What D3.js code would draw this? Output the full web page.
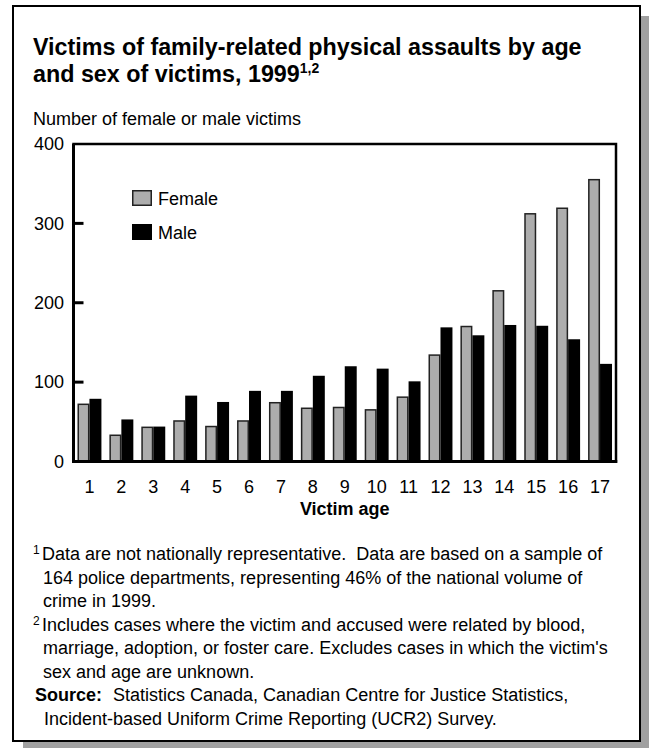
<!DOCTYPE html>
<html>
<head>
<meta charset="utf-8">
<script src="https://cdn.jsdelivr.net/npm/d3@7/dist/d3.min.js"></script>
<style>
  html, body { margin: 0; padding: 0; background: #ffffff; }
  svg { display: block; font-family: "Liberation Sans", Arial, sans-serif; }
  text { white-space: pre; }
</style>
</head>
<body>
<script>
// ---- data ----
const ages = ["1","2","3","4","5","6","7","8","9","10","11","12","13","14","15","16","17"];
const female = [73, 34, 44, 52, 45, 52, 75, 68, 69, 66, 82, 135, 171, 216, 313, 320, 356];
const male   = [79, 53, 44, 83, 75, 89, 89, 108, 120, 117, 101, 169, 159, 172, 171, 154, 123];
const seriesNames = ["Female", "Male"];
const yTicks = [0, 100, 200, 300, 400];
const titleLines = ["Victims of family-related physical assaults by age", "and sex of victims, 1999"];
const titleSup = "1,2";
const yAxisTitle = "Number of female or male victims";
const xAxisTitle = "Victim age";
const notes = [
  {sup: "1", lines: ["Data are not nationally representative.  Data are based on a sample of", "164 police departments, representing 46% of the national volume of", "crime in 1999."]},
  {sup: "2", lines: ["Includes cases where the victim and accused were related by blood,", "marriage, adoption, or foster care. Excludes cases in which the victim's", "sex and age are unknown."]}
];
const sourceLabel = "Source:";
const sourceLines = ["Statistics Canada, Canadian Centre for Justice Statistics,", "Incident-based Uniform Crime Reporting (UCR2) Survey."];

const W = 649, H = 748;
const FONT = "Liberation Sans, Arial, sans-serif";
const svg = d3.select("body").append("svg").attr("width", W).attr("height", H);

// frame + shadow
svg.append("rect").attr("x", 23).attr("y", 16).attr("width", 626).attr("height", 732).attr("fill", "#a0a0a0");
svg.append("rect").attr("x", 13).attr("y", 6).attr("width", 627).attr("height", 735)
  .attr("fill", "#fff").attr("stroke", "#000").attr("stroke-width", 2);

// title
const title = svg.append("g").attr("font-weight", "bold").attr("font-size", 23.3).attr("fill", "#000");
title.append("text").attr("x", 33).attr("y", 55).text(titleLines[0]);
const t2 = title.append("text").attr("x", 33).attr("y", 82);
t2.append("tspan").text(titleLines[1]);
t2.append("tspan").attr("font-size", 14).attr("dy", -9).text(titleSup);

svg.append("text").attr("x", 33).attr("y", 124.5).attr("font-size", 18).text(yAxisTitle);

// plot
const L = 73.5, R = 616, T = 144, B = 461.5;
const x0 = d3.scaleBand().domain(ages).range([L, R]).paddingInner(0.25).paddingOuter(0.125);
const x1 = d3.scaleBand().domain(seriesNames).range([0, x0.bandwidth()]);
const y = d3.scaleLinear().domain([0, 400]).range([B, T]);

const rows = ages.map((a, i) => ({age: a, vals: [female[i], male[i]]}));
const colors = {Female: "#adadad", Male: "#000"};

const groups = svg.append("g").selectAll("g").data(rows).join("g")
  .attr("transform", d => `translate(${x0(d.age)},0)`);
groups.selectAll("rect").data(d => d.vals.map((v, k) => ({name: seriesNames[k], v})))
  .join("rect")
  .attr("x", d => x1(d.name) + (d.name === "Female" ? 0.75 : 0))
  .attr("y", d => y(d.v) + (d.name === "Female" ? 0.75 : 0))
  .attr("width", d => x1.bandwidth() - (d.name === "Female" ? 1.5 : 0))
  .attr("height", d => B - y(d.v) - (d.name === "Female" ? 0.75 : 0))
  .attr("fill", d => colors[d.name])
  .attr("stroke", d => d.name === "Female" ? "#222" : "none")
  .attr("stroke-width", 1.5);

// y axis (inner ticks)
const yAxis = d3.axisLeft(y).tickValues(yTicks).tickSize(0).tickPadding(9.5);
const yg = svg.append("g").attr("transform", `translate(${L},0)`).call(yAxis);
yg.select(".domain").remove();
yg.selectAll("text").attr("font-size", 18).attr("font-family", FONT).attr("fill", "#000");
svg.append("g").selectAll("line").data(yTicks.slice(1, -1)).join("line")
  .attr("x1", L).attr("x2", L + 10).attr("y1", d => y(d)).attr("y2", d => y(d))
  .attr("stroke", "#000").attr("stroke-width", 3);

// x axis
const xAxis = d3.axisBottom(x0).tickSize(0).tickPadding(19);
const xg = svg.append("g").attr("transform", `translate(0,${B})`).call(xAxis);
xg.select(".domain").remove();
xg.selectAll("text").attr("font-size", 18).attr("font-family", FONT).attr("fill", "#000");

// plot frame
svg.append("rect").attr("x", L).attr("y", T).attr("width", R - L).attr("height", B - T)
  .attr("fill", "none").attr("stroke", "#000").attr("stroke-width", 2.5);
svg.append("line").attr("x1", L).attr("x2", L).attr("y1", T).attr("y2", B + 1.5).attr("stroke", "#000").attr("stroke-width", 3);
svg.append("line").attr("x1", L - 1.5).attr("x2", R + 1.25).attr("y1", B).attr("y2", B).attr("stroke", "#000").attr("stroke-width", 3);

svg.append("text").attr("x", (L + R) / 2).attr("y", 515).attr("text-anchor", "middle")
  .attr("font-size", 18).attr("font-weight", "bold").text(xAxisTitle);

// legend
const leg = svg.append("g").selectAll("g").data(seriesNames).join("g")
  .attr("transform", (d, i) => `translate(132,${190 + i * 34})`);
leg.append("rect").attr("x", 0.75).attr("y", 0.75).attr("width", 18.5).attr("height", 14.5)
  .attr("fill", d => colors[d]).attr("stroke", d => d === "Female" ? "#222" : "#000").attr("stroke-width", 1.5);
leg.append("text").attr("x", 26).attr("y", 15).attr("font-size", 18).text(d => d);

// footnotes
const fn = svg.append("g").attr("font-size", 18).attr("fill", "#000");
let yy = 560;
const lh = 23.5;
notes.forEach(n => {
  fn.append("text").attr("x", 33).attr("y", yy - 6).attr("font-size", 12).text(n.sup);
  n.lines.forEach((ln, i) => {
    fn.append("text").attr("x", 42 + (i > 0 ? 1 : 0)).attr("y", yy).text(ln);
    yy += lh;
  });
});
fn.append("text").attr("x", 35).attr("y", yy).attr("font-weight", "bold").text(sourceLabel);
fn.append("text").attr("x", 113).attr("y", yy).text(sourceLines[0]);
yy += lh;
fn.append("text").attr("x", 44).attr("y", yy).text(sourceLines[1]);
</script>
</body>
</html>
